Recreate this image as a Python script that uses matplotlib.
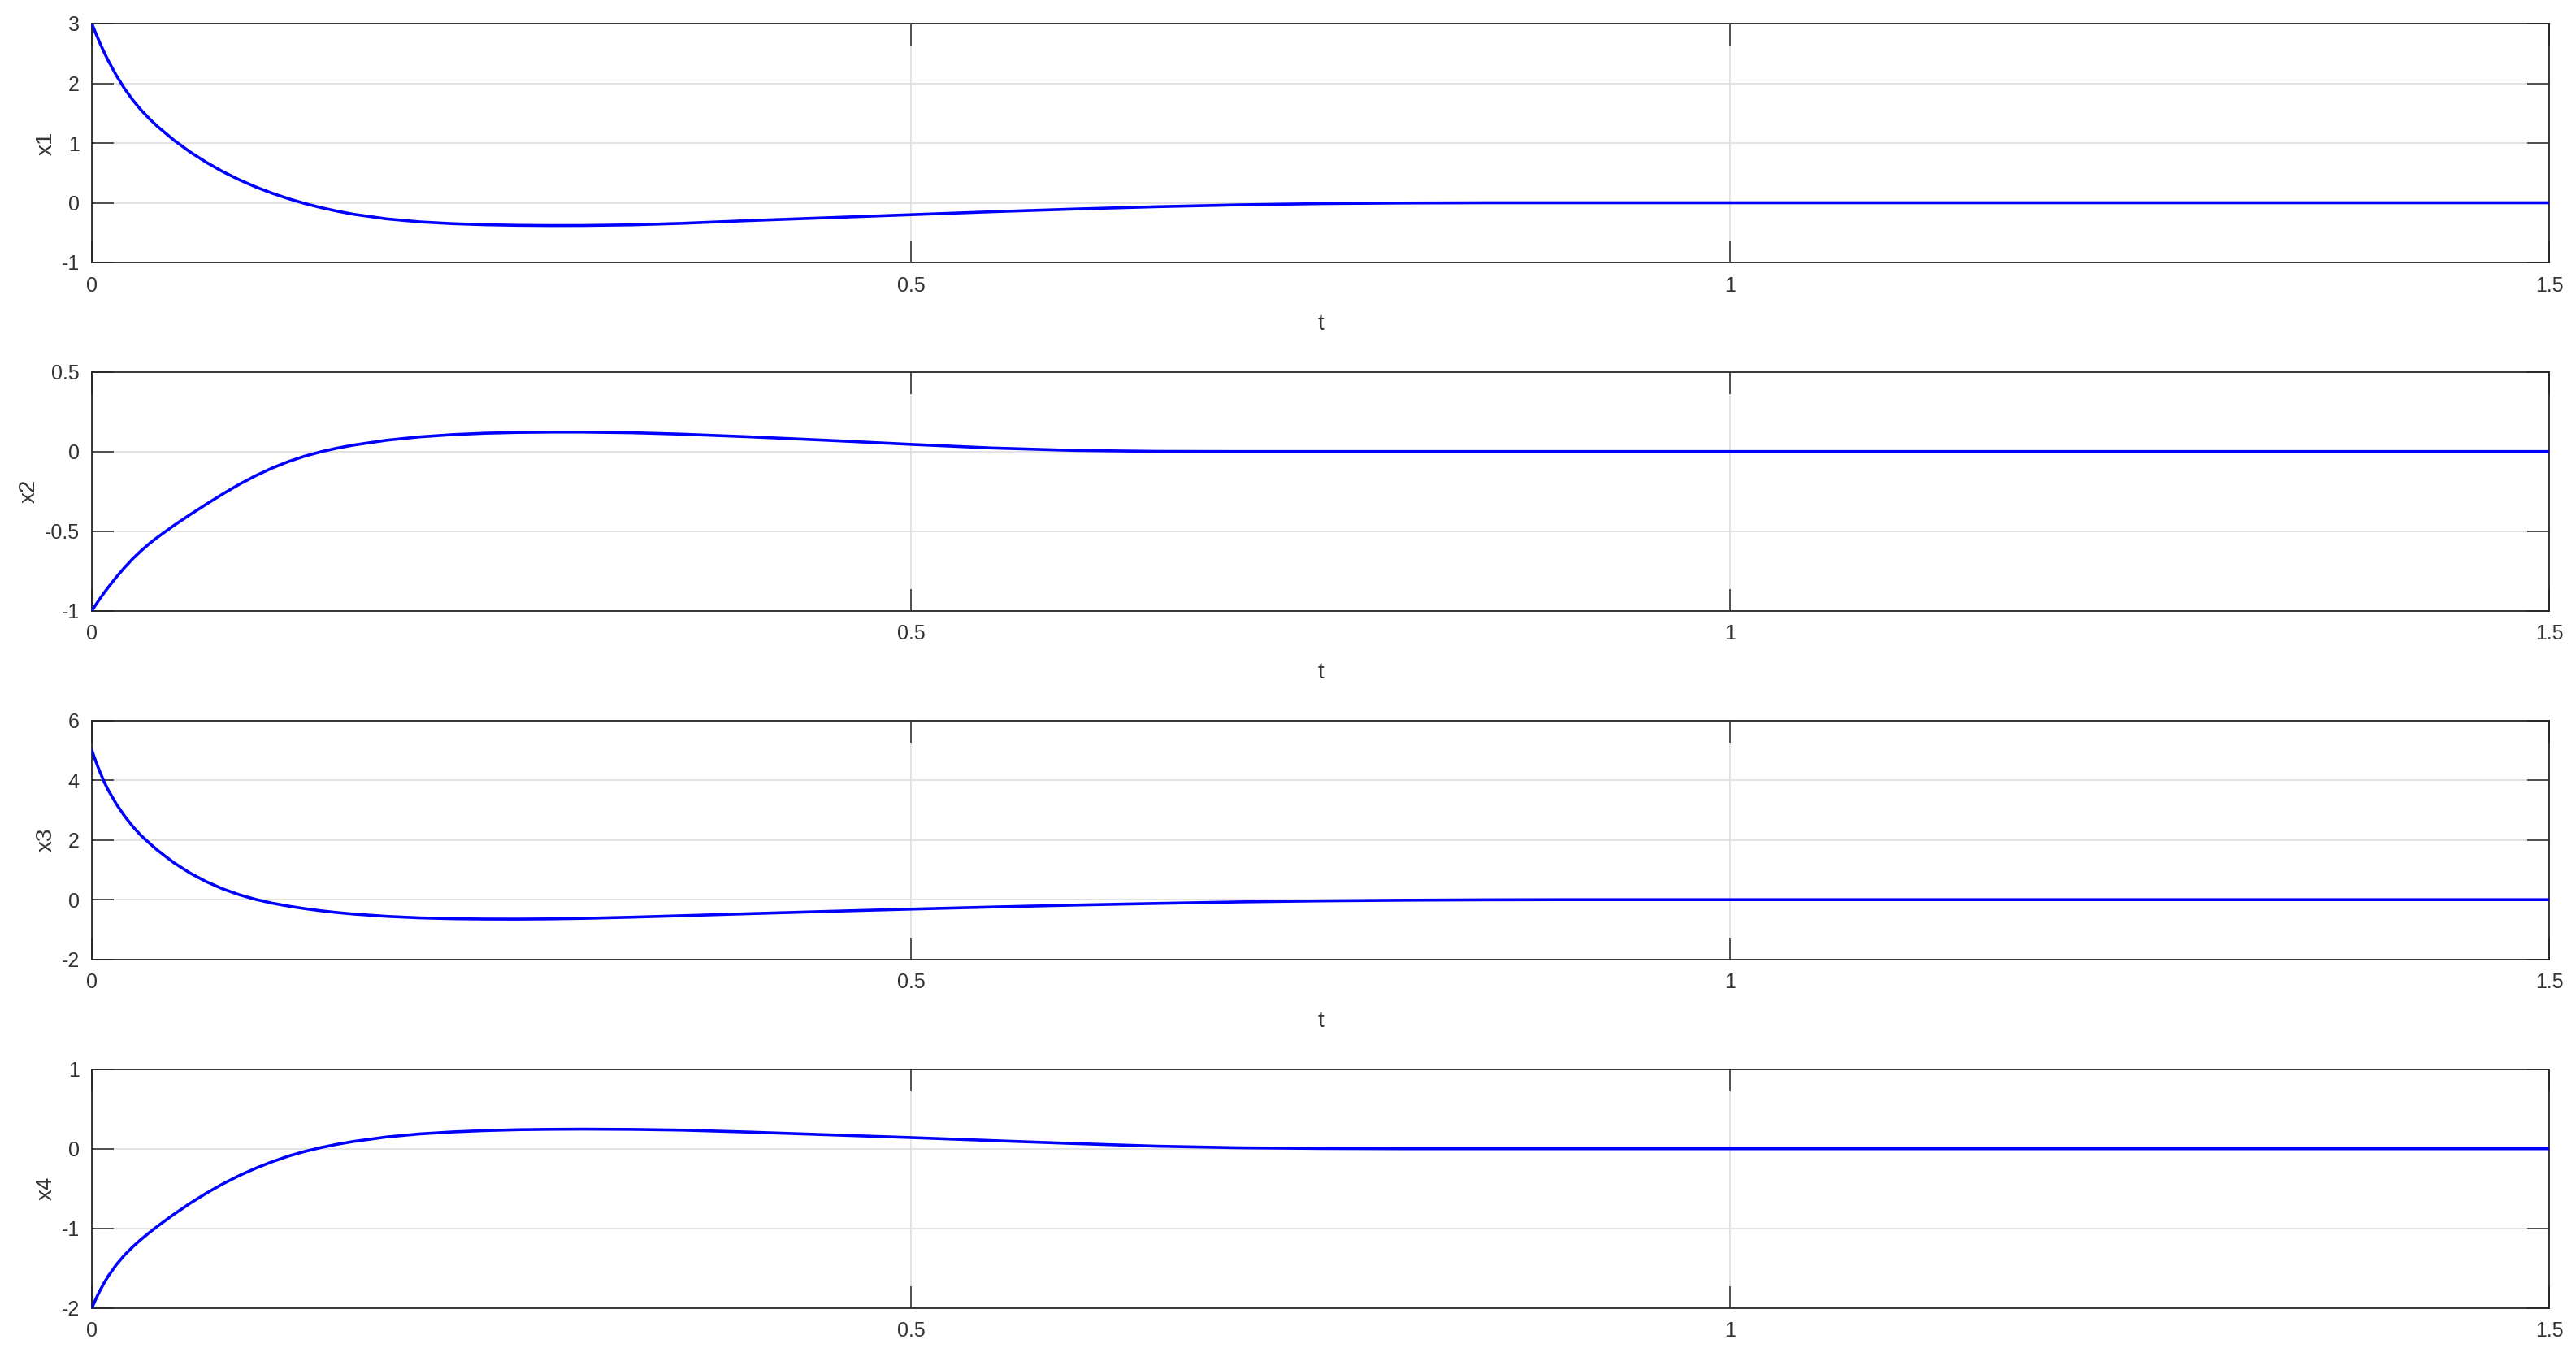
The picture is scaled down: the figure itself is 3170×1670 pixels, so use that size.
import matplotlib
matplotlib.use("Agg")
import matplotlib.pyplot as plt

plt.rcParams['font.family'] = ['Liberation Sans', 'DejaVu Sans']

# ---- data ----
t = [0.0, 0.0025, 0.005, 0.0075, 0.01, 0.015, 0.02, 0.025, 0.03, 0.035, 0.04,
     0.05, 0.06, 0.07, 0.08, 0.09, 0.10, 0.11, 0.12, 0.13, 0.14, 0.15, 0.16,
     0.18, 0.20, 0.22, 0.24, 0.26, 0.28, 0.30,
     0.33, 0.36, 0.40, 0.45, 0.50, 0.55, 0.60, 0.65, 0.70, 0.75, 0.80, 0.85,
     0.90, 1.0, 1.5]

x1 = [3.0, 2.83, 2.67, 2.52, 2.38, 2.13, 1.91, 1.72, 1.555, 1.41, 1.28,
      1.05, 0.85, 0.675, 0.52, 0.385, 0.265, 0.16, 0.068, -0.012, -0.082, -0.142, -0.194,
      -0.27, -0.32, -0.35, -0.368, -0.378, -0.382, -0.381,
      -0.37, -0.345, -0.30, -0.25, -0.20, -0.15, -0.105, -0.066, -0.035, -0.014, -0.004, 0.0,
      0.0, 0.0, 0.0]

x2 = [-1.0, -0.961, -0.923, -0.887, -0.853, -0.788, -0.728, -0.673, -0.624, -0.579, -0.539,
      -0.465, -0.396, -0.33, -0.266, -0.206, -0.152, -0.104, -0.063, -0.029, -0.001, 0.022, 0.041,
      0.071, 0.092, 0.106, 0.115, 0.12, 0.122, 0.122,
      0.118, 0.109, 0.093, 0.07, 0.045, 0.022, 0.007, 0.001, 0.0, 0.0, 0.0, 0.0,
      0.0, 0.0, 0.0]

x3 = [5.0, 4.62, 4.27, 3.95, 3.67, 3.2, 2.8, 2.45, 2.15, 1.9, 1.66,
      1.24, 0.89, 0.60, 0.36, 0.165, 0.01, -0.115, -0.215, -0.30, -0.372, -0.432, -0.482,
      -0.558, -0.608, -0.636, -0.648, -0.65, -0.642, -0.625,
      -0.585, -0.537, -0.47, -0.39, -0.315, -0.245, -0.18, -0.125, -0.075, -0.04, -0.018, -0.005,
      0.0, 0.0, 0.0]

x4 = [-2.0, -1.885, -1.78, -1.685, -1.60, -1.455, -1.335, -1.232, -1.14, -1.055, -0.975,
      -0.825, -0.685, -0.557, -0.441, -0.337, -0.245, -0.164, -0.093, -0.034, 0.015, 0.057, 0.092,
      0.148, 0.186, 0.211, 0.228, 0.239, 0.244, 0.246,
      0.243, 0.234, 0.21, 0.175, 0.14, 0.102, 0.065, 0.032, 0.012, 0.003, 0.0, 0.0,
      0.0, 0.0, 0.0]

series = [x1, x2, x3, x4]
ylabels = ['x1', 'x2', 'x3', 'x4']
ylims = [(-1, 3), (-1, 0.5), (-2, 6), (-2, 1)]
yticks = [[-1, 0, 1, 2, 3], [-1, -0.5, 0, 0.5], [-2, 0, 2, 4, 6], [-2, -1, 0, 1]]
ytick_labels = [['-1', '0', '1', '2', '3'], ['-1', '-0.5', '0', '0.5'],
                ['-2', '0', '2', '4', '6'], ['-2', '-1', '0', '1']]
xticks = [0, 0.5, 1, 1.5]
xtick_labels = ['0', '0.5', '1', '1.5']
xlabels = ['t', 't', 't', None]

# ---- figure ----
W, H = 3170, 1670
fig = plt.figure(figsize=(W / 100, H / 100), dpi=100)

left = 113 / W
width = 3024 / W
tops = [29, 457.7, 886.7, 1315.7]
ph = 294

axis_col = '#262626'
text_col = '#333333'

for i in range(4):
    bottom = 1 - (tops[i] + ph) / H
    ax = fig.add_axes([left, bottom, width, ph / H])
    ax.plot(t, series[i], color=(0, 0, 1), lw=2.6, zorder=3,
            solid_joinstyle='round')
    ax.set_xlim(0, 1.5)
    ax.set_ylim(*ylims[i])
    ax.set_xticks(xticks)
    ax.set_xticklabels(xtick_labels)
    ax.set_yticks(yticks[i])
    ax.set_yticklabels(ytick_labels[i])
    ax.grid(True, color='#dedede', lw=1.2, zorder=0)
    ax.tick_params(direction='in', length=19.5, width=1.1, color=axis_col,
                   top=True, right=True, labelsize=18, labelcolor=text_col)
    ax.tick_params(axis='x', pad=12)
    ax.tick_params(axis='y', pad=11)
    for sp in ax.spines.values():
        sp.set_color(axis_col)
        sp.set_linewidth(1.3)
    ax.set_ylabel(ylabels[i], fontsize=20, color=text_col, labelpad=4)
    if xlabels[i]:
        ax.set_xlabel(xlabels[i], fontsize=20, color=text_col, labelpad=16)

fig.savefig('out.png', dpi=100, facecolor='white')
